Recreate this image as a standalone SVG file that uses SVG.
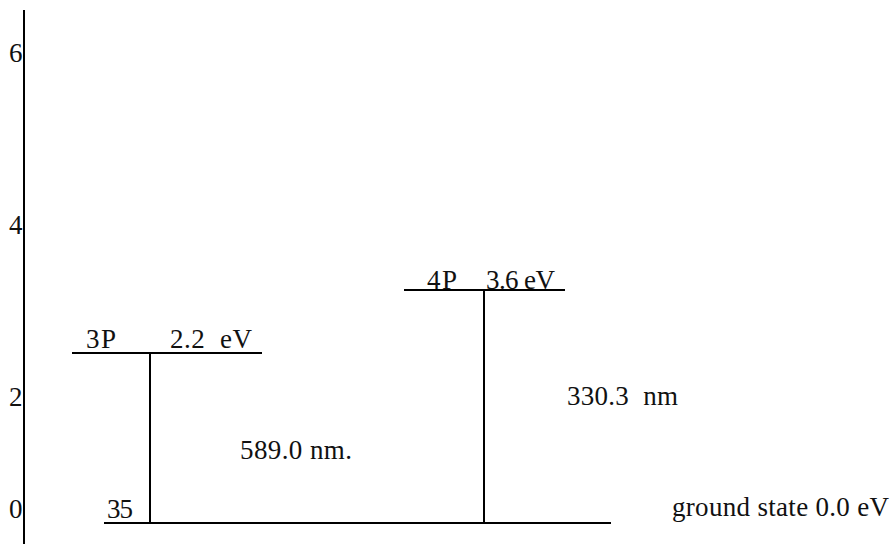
<svg xmlns="http://www.w3.org/2000/svg" width="893" height="544" viewBox="0 0 893 544">
<style>
text{font-family:"Liberation Serif","Times New Roman",serif;font-size:27px;fill:#111}
.ln{stroke:#000;stroke-width:2;fill:none}
</style>
<rect width="893" height="544" fill="#fff"/>
<g id="axis">
<line class="ln" x1="24" y1="10" x2="24" y2="544"/>
<text x="9" y="62">6</text>
<text x="9" y="234">4</text>
<text x="9" y="406">2</text>
<text x="9" y="518">0</text>
</g>
<g id="ground">
<line class="ln" x1="104" y1="523" x2="611" y2="523"/>
<text x="107" y="518" textLength="26">35</text>
<text x="672" y="516" textLength="217">ground state 0.0 eV</text>
</g>
<g id="level3P">
<line class="ln" x1="72" y1="353" x2="262" y2="353"/>
<text x="86" y="348" textLength="30">3P</text>
<text x="170" y="348" textLength="82" xml:space="preserve">2.2  eV</text>
</g>
<g id="level4P">
<line class="ln" x1="404" y1="290" x2="565" y2="290"/>
<text x="427" y="289" textLength="30">4P</text>
<text x="486" y="289" textLength="69">3.6 eV</text>
</g>
<g id="connectors">
<line class="ln" x1="150" y1="353" x2="150" y2="523"/>
<line class="ln" x1="484" y1="290" x2="484" y2="523"/>
</g>
<text x="240" y="459" textLength="112">589.0 nm.</text>
<text x="567" y="405" textLength="111" xml:space="preserve">330.3  nm</text>
</svg>
